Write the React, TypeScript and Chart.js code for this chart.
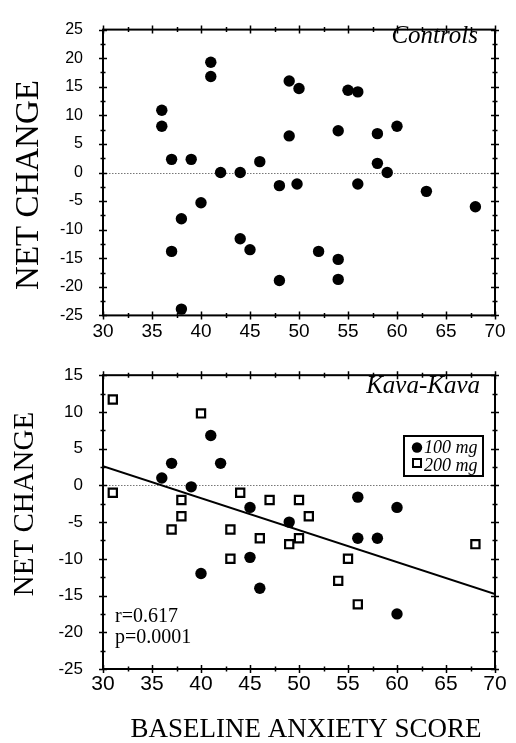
import { useEffect, useRef } from "react";
import { Chart, registerables } from "chart.js";
Chart.register(...registerables);

// ---------- Data ----------
const controlsX = [36, 36, 41, 41, 49, 50, 55, 56, 49, 54, 58, 60, 37, 39, 46, 58, 42, 44, 59, 48, 49.8, 56, 63, 68, 40, 38, 44, 45, 37, 52, 54, 48, 54, 38];
const controlsY = [10.9, 8.1, 19.3, 16.8, 16.0, 14.7, 14.4, 14.1, 6.4, 7.3, 6.8, 8.1, 2.3, 2.3, 1.9, 1.6, 0, 0, 0, -2.3, -2.0, -2.0, -3.3, -6.0, -5.3, -8.1, -11.6, -13.5, -13.8, -13.8, -15.2, -18.9, -18.7, -23.9];

const kava100X = [41, 37, 42, 36, 39, 56, 60, 45, 49, 56, 58, 45, 40, 46, 60];
const kava100Y = [6.8, 3, 3, 1, -0.2, -1.6, -3, -3, -5, -7.2, -7.2, -9.8, -12, -14, -17.5];

const kava200X = [31, 40, 31, 38, 44, 47, 50, 38, 37, 51, 43, 46, 50, 49, 43, 55, 54, 56, 68];
const kava200Y = [11.7, 9.8, -1, -2, -1, -2, -2, -4.2, -6, -4.2, -6, -7.2, -7.2, -8, -10, -10, -13, -16.2, -8];

const fitX = [30, 70];
const fitY = [2.6, -14.8];

const xRange = [30, 70];
const topYRange = [-25, 25];
const bottomYRange = [-25, 15];

const panelTitles = ["Controls", "Kava-Kava"];
const legendLabels = ["100 mg", "200 mg"];
const statLabels = ["r=0.617", "p=0.0001"];
const yAxisTitle = "NET CHANGE";
const xAxisTitle = "BASELINE ANXIETY SCORE";

const zip = (xs: number[], ys: number[]) => xs.map((x, i) => ({ x, y: ys[i] }));

const SANS = "'Liberation Sans', Arial, sans-serif";
const SERIF = "'Liberation Serif', 'Times New Roman', serif";

type Extra = {
  id: string;
  draw: (chart: any) => void;
};

function framePlugin(extra: Extra) {
  return {
    id: extra.id,
    beforeDatasetsDraw(chart: any) {
      const { ctx, chartArea, scales } = chart;
      const { left, right } = chartArea;
      const y0 = Math.round(scales.y.getPixelForValue(0)) + 0.5;
      ctx.save();
      ctx.strokeStyle = "#777";
      ctx.lineWidth = 1;
      ctx.setLineDash([1.5, 1.5]);
      ctx.beginPath();
      ctx.moveTo(left, y0);
      ctx.lineTo(right, y0);
      ctx.stroke();
      ctx.restore();
    },
    afterDatasetsDraw(chart: any) {
      const { ctx, chartArea, scales } = chart;
      const { left, right, top, bottom } = chartArea;
      ctx.save();
      ctx.strokeStyle = "#000";
      ctx.lineWidth = 2;
      ctx.strokeRect(left, top, right - left, bottom - top);
      ctx.lineWidth = 1.5;
      ctx.beginPath();
      const xs = scales.x;
      for (let v = xs.min; v <= xs.max + 1e-6; v += 2.5) {
        const major = Math.abs(v % 5) < 1e-6;
        const len = major ? 4 : 2.5;
        const px = Math.round(xs.getPixelForValue(v)) + 0.5;
        ctx.moveTo(px, bottom - len);
        ctx.lineTo(px, bottom + len);
        ctx.moveTo(px, top - len);
        ctx.lineTo(px, top + len);
      }
      const ys = scales.y;
      for (let v = ys.min; v <= ys.max + 1e-6; v += 2.5) {
        const major = Math.abs(v % 5) < 1e-6;
        const len = major ? 4 : 2.5;
        const py = Math.round(ys.getPixelForValue(v)) + 0.5;
        ctx.moveTo(left - len, py);
        ctx.lineTo(left + len, py);
        ctx.moveTo(right - len, py);
        ctx.lineTo(right + len, py);
      }
      ctx.stroke();
      ctx.restore();
      ctx.save();
      extra.draw(chart);
      ctx.restore();
    },
  };
}

function drawRotated(ctx: CanvasRenderingContext2D, text: string, x: number, y: number, font: string) {
  ctx.save();
  ctx.translate(x, y);
  ctx.rotate(-Math.PI / 2);
  ctx.font = font;
  ctx.fillStyle = "#000";
  ctx.textAlign = "center";
  ctx.textBaseline = "alphabetic";
  ctx.fillText(text, 0, 0);
  ctx.restore();
}

function baseOptions(yRange: number[], padTop: number, xHeight: number, yFont: number, xFont: number, xPad: number) {
  return {
    responsive: false,
    devicePixelRatio: 1,
    animation: false as const,
    layout: { padding: { left: 0, right: 21, top: padTop, bottom: 0 } },
    plugins: { legend: { display: false }, tooltip: { enabled: false } },
    scales: {
      x: {
        type: "linear" as const,
        min: xRange[0],
        max: xRange[1],
        grid: { display: false, drawTicks: false },
        border: { display: false },
        ticks: { stepSize: 5, color: "#000", padding: xPad, font: { family: SANS, size: xFont } },
        afterFit: (s: any) => {
          s.height = xHeight;
        },
      },
      y: {
        type: "linear" as const,
        min: yRange[0],
        max: yRange[1],
        grid: { display: false, drawTicks: false },
        border: { display: false },
        ticks: { stepSize: 5, color: "#000", padding: 20, font: { family: SANS, size: yFont } },
        afterFit: (s: any) => {
          s.width = 103;
        },
      },
    },
  };
}

export default function App() {
  const topRef = useRef<HTMLCanvasElement | null>(null);
  const botRef = useRef<HTMLCanvasElement | null>(null);

  useEffect(() => {
    if (!topRef.current || !botRef.current) return;

    const topChart = new Chart(topRef.current, {
      type: "scatter",
      data: {
        datasets: [
          {
            label: "Controls",
            data: zip(controlsX, controlsY),
            pointStyle: "circle",
            pointRadius: 5.7,
            backgroundColor: "#000",
            borderColor: "#000",
            borderWidth: 0,
          },
        ],
      },
      options: baseOptions(topYRange, 14, 27, 16, 19, 5) as any,
      plugins: [
        framePlugin({
          id: "frameTop",
          draw: (chart: any) => {
            const ctx = chart.ctx as CanvasRenderingContext2D;
            ctx.fillStyle = "#000";
            ctx.font = `italic 25px ${SERIF}`;
            ctx.textAlign = "right";
            ctx.textBaseline = "alphabetic";
            ctx.fillText(panelTitles[0], 478, 43);
            drawRotated(ctx, yAxisTitle, 38, 185, `33px ${SERIF}`);
          },
        }),
      ],
    });

    const botChart = new Chart(botRef.current, {
      type: "scatter",
      data: {
        datasets: [
          {
            label: "Fit",
            data: zip(fitX, fitY),
            showLine: true,
            pointRadius: 0,
            borderColor: "#000",
            borderWidth: 2,
            order: 3,
          } as any,
          {
            label: legendLabels[1],
            data: zip(kava200X, kava200Y),
            pointStyle: "rect",
            pointRadius: 5.8,
            backgroundColor: "#fff",
            borderColor: "#000",
            borderWidth: 2.2,
            order: 2,
          },
          {
            label: legendLabels[0],
            data: zip(kava100X, kava100Y),
            pointStyle: "circle",
            pointRadius: 5.7,
            backgroundColor: "#000",
            borderColor: "#000",
            borderWidth: 0,
            order: 1,
          },
        ],
      },
      options: baseOptions(bottomYRange, 18, 74, 17, 21, 3) as any,
      plugins: [
        framePlugin({
          id: "frameBot",
          draw: (chart: any) => {
            const ctx = chart.ctx as CanvasRenderingContext2D;
            ctx.fillStyle = "#000";
            ctx.textBaseline = "alphabetic";
            ctx.font = `italic 25px ${SERIF}`;
            ctx.textAlign = "right";
            ctx.fillText(panelTitles[1], 480, 48);

            // legend box
            ctx.lineWidth = 2;
            ctx.strokeStyle = "#000";
            ctx.strokeRect(404, 91, 79, 40);
            ctx.beginPath();
            ctx.arc(417, 102.5, 5.2, 0, Math.PI * 2);
            ctx.fill();
            ctx.fillStyle = "#fff";
            ctx.fillRect(413, 114, 8, 8);
            ctx.strokeRect(413, 114, 8, 8);
            ctx.fillStyle = "#000";
            ctx.font = `italic 18px ${SERIF}`;
            ctx.textAlign = "left";
            ctx.fillText(legendLabels[0], 424, 108);
            ctx.fillText(legendLabels[1], 424, 125.5);

            ctx.font = `20px ${SERIF}`;
            ctx.fillText(statLabels[0], 115, 277);
            ctx.fillText(statLabels[1], 115, 298);

            ctx.font = `27px ${SERIF}`;
            ctx.textAlign = "center";
            ctx.fillText(xAxisTitle, 306, 392);

            drawRotated(ctx, yAxisTitle, 33, 159, `29px ${SERIF}`);
          },
        }),
      ],
    });

    return () => {
      topChart.destroy();
      botChart.destroy();
    };
  }, []);

  return (
    <div style={{ position: "absolute", left: 0, top: 0, width: 516, height: 743, background: "#fff" }}>
      <canvas
        ref={topRef}
        width={516}
        height={345}
        style={{ position: "absolute", left: 0, top: 0, width: 516, height: 345 }}
      />
      <canvas
        ref={botRef}
        width={516}
        height={398}
        style={{ position: "absolute", left: 0, top: 345, width: 516, height: 398 }}
      />
    </div>
  );
}
